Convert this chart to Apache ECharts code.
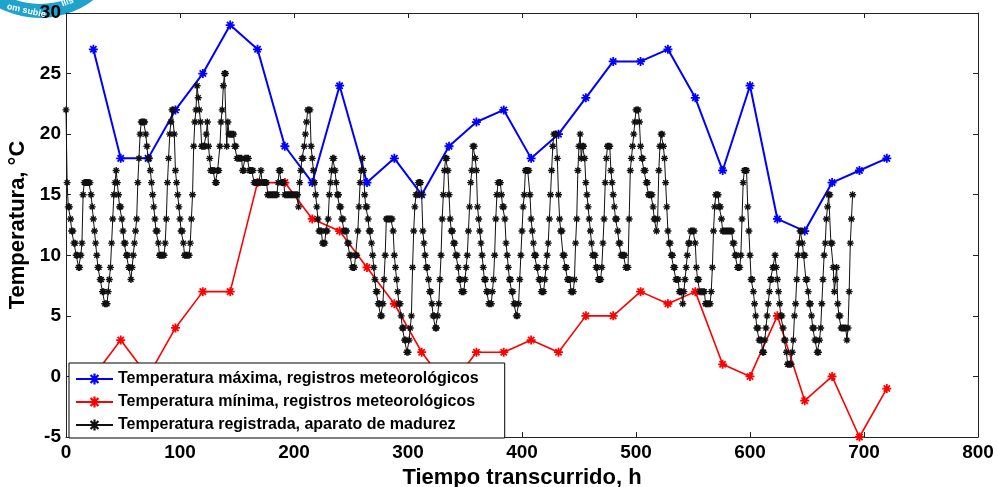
<!DOCTYPE html>
<html>
<head>
<meta charset="utf-8">
<script src="https://cdn.jsdelivr.net/npm/echarts@6/dist/echarts.min.js"></script>
<style>
html,body{margin:0;padding:0;background:#fff;}
#chart{width:998px;height:487px;}
</style>
</head>
<body>
<div id="chart"></div>
<script>
// ---- data ----
const dailyHours = [24,48,72,96,120,144,168,192,216,240,264,288,312,336,360,384,408,432,456,480,504,528,552,576,600,624,648,672,696,720];
const tempMax = [27,18,18,22,25,29,27,19,16,24,16,18,15,19,21,22,18,20,23,26,26,27,23,17,24,13,12,16,17,18];
const tempMin = [0,3,0,4,7,7,16,16,13,12,9,6,2,-1,2,2,3,2,5,5,7,6,7,1,0,5,-2,0,-5,-1];
const recordStartHour = 0;
const recordStepHours = 1;
const tempRecorded = [
22,16,14,14,13,12,12,11,11,10,10,9,9,10,11,15,16,16,16,16,16,16,15,14,
13,12,11,10,9,9,8,8,7,7,6,6,6,7,8,9,11,13,15,16,17,16,15,14,
14,13,12,11,11,10,10,9,9,8,9,10,11,12,13,16,18,20,21,21,21,21,20,19,
18,18,17,16,15,14,13,12,12,11,10,10,10,10,10,11,13,16,18,20,21,22,22,20,
17,16,15,14,13,12,12,11,10,10,10,10,10,11,13,15,19,21,22,24,23,22,21,19,
19,19,19,20,21,19,18,17,17,17,17,16,16,17,17,19,21,22,24,25,25,19,21,20,
20,20,20,20,19,19,18,18,18,18,18,17,17,18,18,18,18,17,17,17,17,16,16,16,
16,16,16,17,16,16,16,16,16,15,15,15,15,15,15,15,15,15,16,17,17,16,16,16,
15,15,15,15,15,15,15,15,15,15,15,15,14,16,17,18,18,19,20,21,22,22,22,19,
18,17,16,15,14,13,12,12,12,11,11,11,12,12,13,15,16,17,18,18,17,16,15,15,
14,14,13,13,12,12,12,11,11,10,10,9,9,9,10,10,12,14,16,17,18,17,15,14,
14,13,12,12,11,10,9,8,7,7,6,6,5,5,6,8,10,13,13,13,13,13,13,12,
10,9,8,7,6,6,5,4,4,3,3,2,2,3,4,5,9,12,14,15,15,16,16,16,
15,12,11,10,9,9,8,7,7,6,5,5,4,4,5,6,8,10,13,15,17,18,18,17,
15,13,12,12,11,11,10,10,9,8,8,7,7,7,8,9,10,12,14,16,17,19,19,18,
17,14,13,12,11,10,9,8,8,7,7,6,6,6,7,8,10,13,15,16,16,16,15,14,
14,13,11,10,9,8,8,7,7,6,6,5,5,6,8,10,12,14,15,17,17,17,17,15,
13,12,11,10,10,9,9,8,8,7,7,7,8,9,10,11,13,15,17,19,20,20,20,18,
15,13,12,12,10,10,9,9,8,8,8,7,7,7,8,11,13,17,19,20,18,19,19,18,
16,15,14,13,12,11,10,10,10,9,9,8,8,8,9,11,13,16,18,19,19,19,17,16,
15,14,13,13,12,11,11,10,10,10,10,9,9,9,13,17,18,19,20,21,22,22,22,21,
19,18,18,17,17,16,16,15,15,15,15,14,13,13,12,13,17,19,20,20,19,18,16,14,
12,11,11,10,10,9,9,8,8,8,7,7,7,6,7,8,9,10,11,11,12,12,12,12,
11,9,8,8,7,7,7,7,7,6,6,6,6,6,7,9,12,14,15,15,15,14,14,13,
12,12,12,12,12,12,12,12,12,11,11,10,10,9,9,9,10,13,16,17,17,17,14,12,
10,8,8,7,6,5,4,4,3,3,3,2,2,3,4,5,6,7,8,8,9,9,10,9,
8,7,6,5,5,4,3,3,2,1,1,1,1,2,3,5,6,8,10,11,12,12,11,10,
10,8,8,7,6,6,5,4,4,3,3,2,2,3,4,6,8,10,11,13,14,15,15,11,
11,9,7,8,9,6,5,5,4,4,4,4,4,3,4,7,11,13,15
];
const xTickMin = 0, xTickMax = 800, xTickStep = 100;
const yTickMin = -5, yTickMax = 30, yTickStep = 5;
const legendNames = [
  'Temperatura máxima, registros meteorológicos',
  'Temperatura mínima, registros meteorológicos',
  'Temperatura registrada, aparato de madurez'
];

// ---- build ----
const star = 'path://M-1,-5L1,-5L1,5L-1,5Z M-5,-1L5,-1L5,1L-5,1Z M-4.2,-2.8L-2.8,-4.2L4.2,2.8L2.8,4.2Z M2.8,-4.2L4.2,-2.8L-2.8,4.2L-4.2,2.8Z';
const maxData = dailyHours.map((h,i)=>[h,tempMax[i]]);
const minData = dailyHours.map((h,i)=>[h,tempMin[i]]);
const recData = tempRecorded.map((v,i)=>[recordStartHour + i*recordStepHours, v]);
const FONT = '"Liberation Sans", Arial, sans-serif';

const chart = echarts.init(document.getElementById('chart'), null, {renderer:'canvas'});
const axisCommon = {
  type:'value',
  axisLine:{show:true,onZero:false,lineStyle:{color:'#222',width:1}},
  axisTick:{show:true,inside:true,length:5,lineStyle:{color:'#222'}},
  splitLine:{show:false}
};
chart.setOption({
  animation:false,
  backgroundColor:'#fff',
  grid:{left:66,right:20,top:13,bottom:50,containLabel:false,outerBoundsMode:'none'},
  xAxis:[
    Object.assign({}, axisCommon, {
      position:'bottom', min:xTickMin, max:xTickMax, interval:xTickStep,
      axisLabel:{color:'#000',fontSize:19,fontWeight:'bold',fontFamily:FONT,margin:6},
      name:'Tiempo transcurrido, h', nameLocation:'middle', nameGap:29,
      nameTextStyle:{color:'#000',fontSize:22,fontWeight:'bold',fontFamily:FONT}
    }),
    Object.assign({}, axisCommon, {
      position:'top', min:xTickMin, max:xTickMax, interval:xTickStep,
      axisLabel:{show:false}
    })
  ],
  yAxis:[
    Object.assign({}, axisCommon, {
      position:'left', min:yTickMin, max:yTickMax, interval:yTickStep,
      axisLabel:{color:'#000',fontSize:19,fontWeight:'bold',fontFamily:FONT,margin:5},
      name:'Temperatura, °C', nameLocation:'middle', nameGap:32,
      nameTextStyle:{color:'#000',fontSize:22,fontWeight:'bold',fontFamily:FONT}
    }),
    Object.assign({}, axisCommon, {
      position:'right', min:yTickMin, max:yTickMax, interval:yTickStep,
      axisLabel:{show:false}
    })
  ],
  legend:{
    orient:'vertical', left:69, top:363,
    padding:[8,26,5,6],
    itemWidth:37, itemHeight:14, itemGap:7,
    backgroundColor:'#fff', borderColor:'#000', borderWidth:1,
    textStyle:{color:'#000',fontSize:16,lineHeight:14,fontWeight:'bold',fontFamily:FONT},
    data:legendNames
  },
  graphic:[
    {type:'ring', shape:{cx:40,cy:-70,r:88,r0:74}, style:{fill:'#1fa3cc'}, z:0},
    {type:'text', x:8, y:2, rotation:-0.22, style:{text:'om subie',fill:'#fff',font:'bold 9px '+FONT}, z:1},
    {type:'text', x:60, y:0, rotation:0.35, style:{text:'llis',fill:'#fff',font:'bold 9px '+FONT}, z:1}
  ],
  series:[
    {name:legendNames[0], type:'line', data:maxData, xAxisIndex:0, yAxisIndex:0,
     symbol:star, symbolSize:9, showAllSymbol:true,
     lineStyle:{color:'#0000ff',width:2}, itemStyle:{color:'#0000ff'}},
    {name:legendNames[1], type:'line', data:minData, xAxisIndex:0, yAxisIndex:0,
     symbol:star, symbolSize:9, showAllSymbol:true,
     lineStyle:{color:'#ff0000',width:1.6}, itemStyle:{color:'#ff0000'}},
    {name:legendNames[2], type:'line', data:recData, xAxisIndex:0, yAxisIndex:0,
     symbol:star, symbolSize:7, showAllSymbol:true,
     lineStyle:{color:'#111',width:1}, itemStyle:{color:'#111'}}
  ]
});
</script>
</body>
</html>
